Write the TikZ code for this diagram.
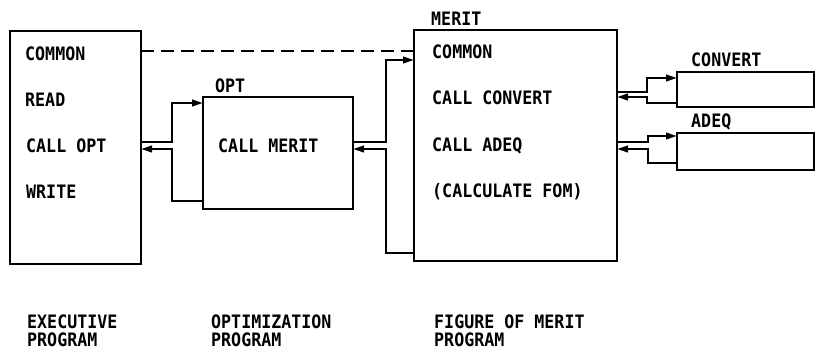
\documentclass[tikz,border=0pt]{standalone}
\usepackage{fontspec}
\newfontfamily\plotfont[FakeStretch=0.9,BoldFont={DejaVu Sans Mono Bold}]{DejaVu Sans Mono}
\usetikzlibrary{arrows.meta}
\begin{document}
\begin{tikzpicture}[x=1pt,y=-1pt,
  box/.style={draw=black, line width=2.6pt, rectangle, outer sep=0pt, inner sep=0pt, anchor=north west},
  lbl/.style={anchor=west, inner sep=0pt, font=\plotfont\bfseries\fontsize{18.5}{20}\selectfont},
  flow/.style={draw=black, line width=2.3pt, line join=miter, -{Triangle[length=11pt,width=6.5pt]}},
  shared/.style={draw=black, line width=2.4pt, dash pattern=on 13pt off 7pt}]
\useasboundingbox (0,0) rectangle (816,351);
% boxes
\node[box, minimum width=131pt, minimum height=233pt] (exec) at (10,31) {};
\node[box, minimum width=150pt, minimum height=112pt] (opt) at (203,97) {};
\node[box, minimum width=203pt, minimum height=231pt] (merit) at (414,30) {};
\node[box, minimum width=137pt, minimum height=35pt] (convert) at (677,72) {};
\node[box, minimum width=137pt, minimum height=37pt] (adeq) at (677,133) {};
% texts
\node[lbl] (t1) at (25,54) {COMMON};
\node[lbl] (t2) at (25,99.5) {READ};
\node[lbl] (t3) at (26,146) {CALL OPT};
\node[lbl] (t4) at (26,192) {WRITE};
\node[lbl] (t5) at (215,86) {OPT};
\node[lbl] (t6) at (218,146) {CALL MERIT};
\node[lbl] (t7) at (431,19) {MERIT};
\node[lbl] (t8) at (432,52) {COMMON};
\node[lbl] (t9) at (432,98) {CALL CONVERT};
\node[lbl] (t10) at (432,146) {CALL ADEQ};
\node[lbl] (t11) at (432,192) {(CALCULATE FOM)};
\node[lbl] (t12) at (691,60) {CONVERT};
\node[lbl] (t13) at (691,122) {ADEQ};
\node[lbl] (b1) at (27,322) {EXECUTIVE};
\node[lbl] (b2) at (27,340) {PROGRAM};
\node[lbl] (b3) at (211,322) {OPTIMIZATION};
\node[lbl] (b4) at (211,340) {PROGRAM};
\node[lbl] (b5) at (434,322) {FIGURE OF MERIT};
\node[lbl] (b6) at (434,340) {PROGRAM};
% bend coordinates
\coordinate (d) at (0,51);
\coordinate (a1) at (172,142);
\coordinate (a2) at (0,103);
\coordinate (a3) at (0,201);
\coordinate (a4) at (172,149);
\coordinate (b1c) at (386,142);
\coordinate (b2c) at (0,60);
\coordinate (b3c) at (0,253);
\coordinate (b4c) at (386,149);
\coordinate (c1) at (647,92);
\coordinate (c2) at (0,78);
\coordinate (c3) at (0,103);
\coordinate (c4) at (647,97);
\coordinate (e1) at (648,142);
\coordinate (e2) at (0,136);
\coordinate (e3) at (0,163);
\coordinate (e4) at (648,149);
% shared common
\draw[shared] (exec.east |- d) -- (merit.west |- d);
% exec <-> opt
\draw[flow] (a1 -| exec.east) -- (a1) |- (opt.west |- a2);
\draw[flow] (opt.west |- a3) -| (a4) -- (a4 -| exec.east);
% opt <-> merit
\draw[flow] (b1c -| opt.east) -- (b1c) |- (merit.west |- b2c);
\draw[flow] (merit.west |- b3c) -| (b4c) -- (b4c -| opt.east);
% merit <-> convert
\draw[flow] (c1 -| merit.east) -- (c1) |- (convert.west |- c2);
\draw[flow] (convert.west |- c3) -| (c4) -- (c4 -| merit.east);
% merit <-> adeq
\draw[flow] (e1 -| merit.east) -- (e1) |- (adeq.west |- e2);
\draw[flow] (adeq.west |- e3) -| (e4) -- (e4 -| merit.east);
\end{tikzpicture}
\end{document}
